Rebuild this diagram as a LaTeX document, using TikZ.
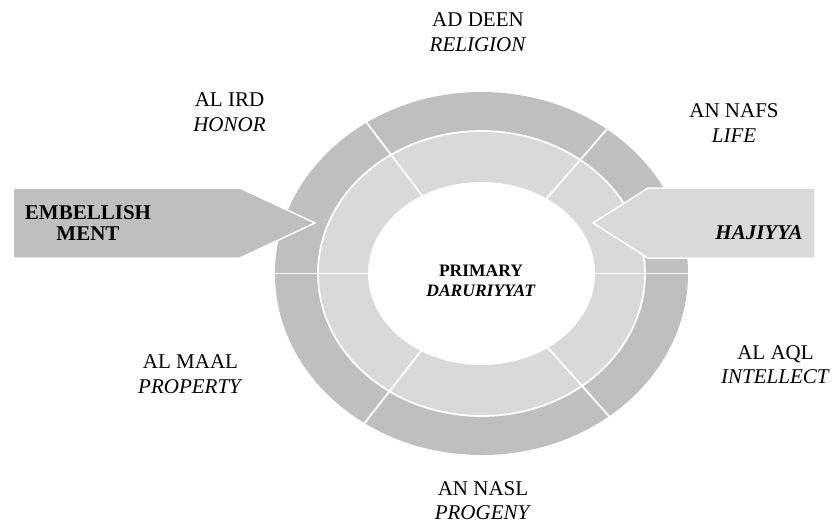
\documentclass[tikz,border=0pt]{standalone}
\usepackage{fontspec}
\setmainfont{Liberation Serif}
\definecolor{ringdark}{HTML}{BFBFBF}
\definecolor{ringlight}{HTML}{D9D9D9}
\begin{document}
\begin{tikzpicture}[x=1pt,y=-1pt,
  lbl/.style={align=center, inner sep=0pt, font=\fontsize{21}{24.5}\selectfont},
  ctr/.style={align=center, inner sep=0pt, font=\fontsize{17.5}{20}\selectfont\bfseries},
  arrtxt/.style={align=center, inner sep=0pt, font=\fontsize{21}{20.5}\selectfont\bfseries},
  sepline/.style={draw=white, line width=1.8pt},
  arrshape/.style={draw=white, line width=1.5pt}]
\useasboundingbox (0,0) rectangle (833,523);
\coordinate (C) at (481.5,273.5);
\fill[ringdark] (C) ellipse [x radius=206.5pt, y radius=181.5pt];
\fill[ringlight] (C) ellipse [x radius=163.5pt, y radius=142.5pt];
\draw[sepline] (C) ellipse [x radius=163.5pt, y radius=142.5pt];
\fill[white] (C) ellipse [x radius=113.5pt, y radius=91.5pt];
\begin{scope}
  \clip (C) ellipse [x radius=206.5pt, y radius=181.5pt];
  \foreach \a in {0,49,127.3,180,232,311.8}
    \draw[sepline] (C) -- ++(\a:260pt);
\end{scope}
% arrows
\draw[arrshape, fill=ringdark] (13,188) -- (240,188) -- (315,223) -- (240,258) -- (13,258) -- cycle;
\node[arrtxt] (emb) at (88,223) {EMBELLISH\\MENT};
\draw[arrshape, fill=ringlight] (815,188) -- (648,188) -- (593,223) -- (648,258) -- (815,258) -- cycle;
\node[arrtxt, font=\fontsize{21}{20.5}\selectfont\bfseries\itshape] (haj) at (759,233) {HAJIYYA};
% center
\node[ctr] (prim) at (481,281) {PRIMARY\\\textit{DARURIYYAT}};
% labels
\node[lbl] (deen) at (478,32) {AD DEEN\\\textit{RELIGION}};
\node[lbl] (ird) at (229.5,112) {AL IRD\\\textit{HONOR}};
\node[lbl] (nafs) at (734,123) {AN NAFS\\\textit{LIFE}};
\node[lbl] (maal) at (190.5,374) {AL MAAL\\\textit{PROPERTY}};
\node[lbl] (aql) at (775.5,364.5) {AL AQL\\\textit{INTELLECT}};
\node[lbl] (nasl) at (483,500.5) {AN NASL\\\textit{PROGENY}};
\end{tikzpicture}
\end{document}
